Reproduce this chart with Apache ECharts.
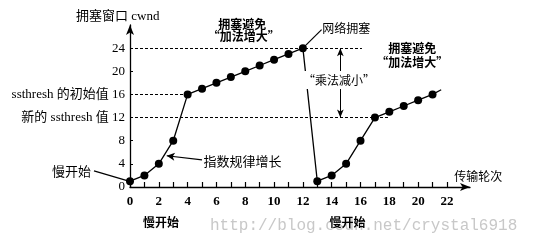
<!DOCTYPE html>
<html><head><meta charset="utf-8">
<script src="https://cdn.jsdelivr.net/npm/echarts@6/dist/echarts.min.js"></script>
<style>html,body{margin:0;padding:0;background:#fff}#c{width:544px;height:247px}</style>
</head><body><div id="c"></div>
<script>
// ---- data ----
const rounds = [0,1,2,3,4,5,6,7,8,9,10,11,12,13,14,15,16,17,18,19,20,21];
const cwnd   = [1,2,4,8,16,17,18,19,20,21,22,23,24,1,2,4,8,12,13,14,15,16];
const xTickValues  = [0,1,2,3,4,5,6,7,8,9,10,11,12,13,14,15,16,17,18,19,20,21,22];
const xLabelValues = [0,2,4,6,8,10,12,14,16,18,20,22];
const yTickValues  = [0,4,8,12,16,20,24];
const ssthreshInit = 16;
const ssthreshNew = 12;
const congestionPeak = 24;
const yLabelPrefixes = {16:'ssthresh 的初始值', 12:'新的 ssthresh 值'};
const yAxisName = '拥塞窗口 cwnd';
const xAxisName = '传输轮次';
const noteSlowStart = '慢开始';
const noteExp = '指数规律增长';
const noteCA1 = '拥塞避免';
const noteCA2 = '“加法增大”';
const noteCongestion = '网络拥塞';
const noteMD = '“乘法减小”';
const watermark = 'http://blog.csdn.net/crystal6918';

// ---- chart ----
const FONT = '"Liberation Serif","Noto Sans CJK SC",serif';
const CJK = '"Noto Sans CJK SC","Liberation Serif",sans-serif';
const chart = echarts.init(document.getElementById('c'), null, {renderer:'canvas'});
const dash = {type:[3,2], color:'#000', width:1};
chart.setOption({
  animation:false,
  backgroundColor:'#fff',
  grid:{left:130,right:74,top:25,bottom:60},
  xAxis:{
    type:'value', min:0, max:23.6,
    axisLine:{symbol:['none','arrow'], symbolSize:[6,10], lineStyle:{color:'#000',width:1.3}},
    axisTick:{customValues:xTickValues, inside:true, length:5, lineStyle:{color:'#000',width:1.2}},
    axisLabel:{customValues:xLabelValues, color:'#000', fontFamily:FONT, fontWeight:'bold', fontSize:13, margin:8},
    splitLine:{show:false}
  },
  yAxis:{
    type:'value', min:0, max:28,
    axisLine:{show:true, symbol:['none','arrow'], symbolSize:[6,10], lineStyle:{color:'#000',width:1.3}},
    axisTick:{show:true, customValues:yTickValues, inside:true, length:3, lineStyle:{color:'#000'}},
    axisLabel:{customValues:yTickValues, color:'#000', fontFamily:FONT, fontSize:13, margin:5,
      formatter: v => yLabelPrefixes[v] ? yLabelPrefixes[v] + ' ' + v : String(v)},
    splitLine:{show:false}
  },
  series:[{
    type:'line', clip:false,
    data: rounds.map((r,i)=>[r,cwnd[i]]),
    symbol:'circle', symbolSize:8,
    itemStyle:{color:'#000'},
    lineStyle:{color:'#000', width:1.3},
    markLine:{
      silent:true, symbol:'none', label:{show:false}, animation:false,
      lineStyle:dash,
      data:[
        [{coord:[0,congestionPeak]},{coord:[16.1,congestionPeak]}],
        [{coord:[0,ssthreshInit]},{coord:[4,ssthreshInit]}],
        [{coord:[0,ssthreshNew]},{coord:[17.95,ssthreshNew]}],
        [{coord:[14.6,congestionPeak], symbol:'arrow', symbolSize:[5,8], lineStyle:{type:'solid',width:1}},
         {coord:[14.6,ssthreshNew], symbol:'arrow', symbolSize:[5,8]}],
        [{coord:[12,congestionPeak], lineStyle:{type:'solid',width:1.2}},{coord:[13.3,27.2]}],
        [{coord:[21,16], lineStyle:{type:'solid',width:1.3}},{coord:[21.6,16.8]}],
        [{coord:[5.0,4.7], lineStyle:{type:'solid',width:1.2}},{coord:[2.55,5.4], symbol:'arrow', symbolSize:[6,8]}]
      ]
    }
  }]
});

const P = (x,y) => chart.convertToPixel({gridIndex:0},[x,y]);
function txt(pt, text, opt){
  return Object.assign({type:'text', x:pt[0], y:pt[1], z:100,
    style:Object.assign({text:text, fill:'#000', font:'12px '+CJK, align:'left', verticalAlign:'middle'}, opt||{})});
}
const g = [];
g.push({type:'text', x:210, y:226, z:1, style:{text:watermark, fill:'#c8c8c8', font:'16px "Liberation Mono",monospace', align:'left', verticalAlign:'middle'}});
const a = P(-2.5,2.8), b = P(-0.2,1.1);
g.push({type:'line', z:50, shape:{x1:a[0],y1:a[1],x2:b[0],y2:b[1]}, style:{stroke:'#000', lineWidth:1.2}});
g.push(txt(P(-3.75,29.4), yAxisName, {font:'13px '+FONT}));
g.push(txt(P(22.5,1.9), xAxisName, {font:'12px '+CJK}));
g.push(txt(P(-2.7,2.8), noteSlowStart, {font:'13px '+CJK, align:'right'}));
g.push(txt(P(5.1,4.55), noteExp, {font:'13px '+CJK}));
g.push(txt(P(2.16,-6.2), noteSlowStart, {font:'bold 12px '+CJK, align:'center'}));
g.push(txt(P(15.1,-6.2), noteSlowStart, {font:'bold 12px '+CJK, align:'center'}));
g.push(txt(P(7.8,28.1), noteCA1, {font:'bold 12px '+CJK, align:'center'}));
g.push(txt(P(7.9,26.0), noteCA2, {font:'bold 12px '+CJK, align:'center'}));
g.push(txt(P(19.6,23.9), noteCA1, {font:'bold 12px '+CJK, align:'center'}));
g.push(txt(P(19.6,21.5), noteCA2, {font:'bold 12px '+CJK, align:'center'}));
g.push(txt(P(13.35,27.4), noteCongestion, {font:'12px '+CJK}));
g.push(txt(P(14.5,18.5), noteMD, {font:'12px '+CJK, align:'center', backgroundColor:'#fff', padding:[3,0]}));
chart.setOption({graphic:g});
</script>
</body></html>
